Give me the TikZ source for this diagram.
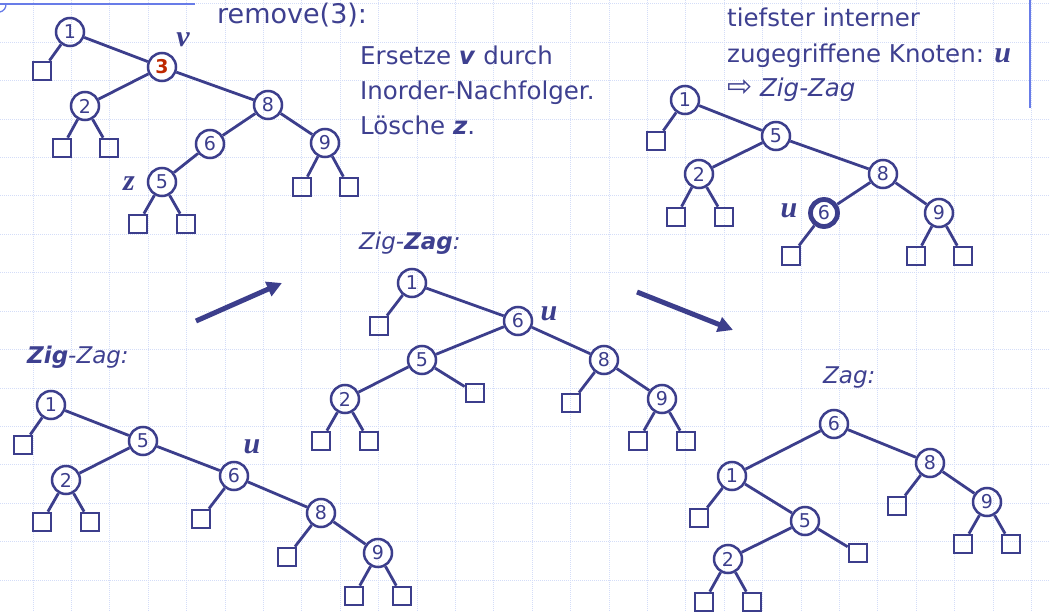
\documentclass[tikz,border=0pt]{standalone}
\usepackage{fontspec}
\setmainfont{DejaVu Sans}
\newfontfamily\labelfont{Liberation Serif}
\usetikzlibrary{arrows.meta}
\definecolor{treeblue}{RGB}{60,62,140}
\definecolor{textblue}{RGB}{62,64,144}
\definecolor{vred}{RGB}{190,40,0}
\definecolor{gridblue}{RGB}{212,221,248}
\definecolor{slideblue}{RGB}{104,124,232}

\begin{document}
\begin{tikzpicture}[
  x=1pt, y=-1pt,
  knoten/.style={draw=treeblue, circle, line width=2.5pt, minimum size=28pt,
                 inner sep=0pt, text=treeblue, font=\fontsize{19}{19}\selectfont},
  blatt/.style={draw=treeblue, rectangle, line width=2.7pt, minimum size=18pt,
                inner sep=0pt},
  kante/.style={draw=treeblue, line width=2.8pt},
  marke/.style={text=treeblue, inner sep=0pt,
                font=\labelfont\bfseries\itshape\fontsize{30}{30}\selectfont},
  txt/.style={text=textblue, anchor=base west, inner sep=0pt,
              font=\fontsize{24.5}{30}\selectfont},
  titel/.style={txt, font=\fontsize{23}{28}\selectfont\itshape},
  pfeil/.style={draw=treeblue, line width=5pt, -{Triangle[length=15pt, width=15pt]}},
  gitter/.style={draw=gridblue, line width=1pt, densely dotted}
]

%--- Background and grid ---
\fill[white] (0,0) rectangle (1049,612);
\useasboundingbox (0,0) rectangle (1049,612);
\foreach \k in {1,...,27}
  \draw[gitter] ({-5.4+38.4*\k},0) -- ({-5.4+38.4*\k},612);
\foreach \k in {0,...,15}
  \draw[gitter] (0,{4+38.4*\k}) -- (1049,{4+38.4*\k});
\draw[slideblue, line width=1.3pt] (0,4) -- (195,4);
\draw[slideblue, line width=1.3pt] (1030,0) -- (1030,108);
\draw[slideblue, line width=1.3pt] (0,12) .. controls (4,11) and (6,8) .. (6,4);

%--- Texts ---
\node[txt, font=\fontsize{27}{30}\selectfont] (remove) at (217,24) {remove(3):};
\node[txt] (zeile1) at (360,65) {Ersetze \textbf{\textit{v}} durch};
\node[txt] (zeile2) at (360,100) {Inorder-Nachfolger.};
\node[txt] (zeile3) at (360,135) {Lösche \textbf{\textit{z}}.};
\node[txt] (info1) at (727,27) {tiefster interner};
\node[txt] (info2) at (727,63) {zugegriffene Knoten: {\labelfont\bfseries\itshape\fontsize{30}{30}\selectfont u}};
\node[txt] (info3) at (727,97) {{\fontsize{30}{30}\selectfont ⇨} \textit{Zig-Zag}};
\node[titel] (zigtitel) at (27,363) {\textbf{Zig}-Zag:};
\node[titel] (zagtitel) at (359,250) {Zig-\textbf{Zag}:};
\node[titel] (zagende) at (823,383) {Zag:};

%--- Tree A: remove(3) ---
\node[knoten] (a1) at (70,32) {1};
\node[knoten, text=vred, font=\fontsize{19}{19}\selectfont\bfseries] (a3) at (162,67) {3};
\node[knoten] (a2) at (85,106) {2};
\node[knoten] (a8) at (268,105) {8};
\node[knoten] (a6) at (210,144) {6};
\node[knoten] (a9) at (325,143) {9};
\node[knoten] (a5) at (162,182) {5};
\node[blatt] (aL1) at (42,71) {};
\node[blatt] (aL2) at (62,148) {};
\node[blatt] (aL3) at (109,148) {};
\node[blatt] (aL4) at (302,187) {};
\node[blatt] (aL5) at (349,187) {};
\node[blatt] (aL6) at (138,224) {};
\node[blatt] (aL7) at (186,224) {};
\node[marke] (av) at (183,40) {v};
\node[marke] (az) at (129,184) {z};

\draw[kante] (a1) -- (aL1);
\draw[kante] (a1) -- (a3);
\draw[kante] (a3) -- (a2);
\draw[kante] (a3) -- (a8);
\draw[kante] (a2) -- (aL2);
\draw[kante] (a2) -- (aL3);
\draw[kante] (a8) -- (a6);
\draw[kante] (a8) -- (a9);
\draw[kante] (a6) -- (a5);
\draw[kante] (a9) -- (aL4);
\draw[kante] (a9) -- (aL5);
\draw[kante] (a5) -- (aL6);
\draw[kante] (a5) -- (aL7);

%--- Tree B: after removal ---
\node[knoten] (b1) at (685,100) {1};
\node[knoten] (b5) at (776,136) {5};
\node[knoten] (b2) at (699,174) {2};
\node[knoten] (b8) at (883,174) {8};
\node[knoten, line width=4.8pt, minimum size=27pt] (b6) at (824,213) {6};
\node[knoten] (b9) at (939,213) {9};
\node[blatt] (bL1) at (656,141) {};
\node[blatt] (bL2) at (676,217) {};
\node[blatt] (bL3) at (724,217) {};
\node[blatt] (bL4) at (791,256) {};
\node[blatt] (bL5) at (916,256) {};
\node[blatt] (bL6) at (963,256) {};
\node[marke] (bu) at (789,211) {u};

\draw[kante] (b1) -- (bL1);
\draw[kante] (b1) -- (b5);
\draw[kante] (b5) -- (b2);
\draw[kante] (b5) -- (b8);
\draw[kante] (b2) -- (bL2);
\draw[kante] (b2) -- (bL3);
\draw[kante] (b8) -- (b6);
\draw[kante] (b8) -- (b9);
\draw[kante] (b6) -- (bL4);
\draw[kante] (b9) -- (bL5);
\draw[kante] (b9) -- (bL6);

%--- Tree C: Zig ---
\node[knoten] (c1) at (51,405) {1};
\node[knoten] (c5) at (143,441) {5};
\node[knoten] (c2) at (66,480) {2};
\node[knoten] (c6) at (234,476) {6};
\node[knoten] (c8) at (321,513) {8};
\node[knoten] (c9) at (378,553) {9};
\node[blatt] (cL1) at (23,445) {};
\node[blatt] (cL2) at (42,522) {};
\node[blatt] (cL3) at (90,522) {};
\node[blatt] (cL4) at (201,519) {};
\node[blatt] (cL5) at (287,557) {};
\node[blatt] (cL6) at (354,596) {};
\node[blatt] (cL7) at (402,596) {};
\node[marke] (cu) at (252,447) {u};

\draw[kante] (c1) -- (cL1);
\draw[kante] (c1) -- (c5);
\draw[kante] (c5) -- (c2);
\draw[kante] (c5) -- (c6);
\draw[kante] (c2) -- (cL2);
\draw[kante] (c2) -- (cL3);
\draw[kante] (c6) -- (cL4);
\draw[kante] (c6) -- (c8);
\draw[kante] (c8) -- (cL5);
\draw[kante] (c8) -- (c9);
\draw[kante] (c9) -- (cL6);
\draw[kante] (c9) -- (cL7);

%--- Tree D: Zag ---
\node[knoten] (d1) at (412,283) {1};
\node[knoten] (d6) at (518,321) {6};
\node[knoten] (d5) at (422,360) {5};
\node[knoten] (d8) at (604,360) {8};
\node[knoten] (d2) at (345,399) {2};
\node[knoten] (d9) at (662,399) {9};
\node[blatt] (dL1) at (379,326) {};
\node[blatt] (dL2) at (475,393) {};
\node[blatt] (dL3) at (571,403) {};
\node[blatt] (dL4) at (321,441) {};
\node[blatt] (dL5) at (369,441) {};
\node[blatt] (dL6) at (638,441) {};
\node[blatt] (dL7) at (686,441) {};
\node[marke] (du) at (549,314) {u};

\draw[kante] (d1) -- (dL1);
\draw[kante] (d1) -- (d6);
\draw[kante] (d6) -- (d5);
\draw[kante] (d6) -- (d8);
\draw[kante] (d5) -- (d2);
\draw[kante] (d5) -- (dL2);
\draw[kante] (d8) -- (dL3);
\draw[kante] (d8) -- (d9);
\draw[kante] (d2) -- (dL4);
\draw[kante] (d2) -- (dL5);
\draw[kante] (d9) -- (dL6);
\draw[kante] (d9) -- (dL7);

%--- Tree E: result ---
\node[knoten] (e6) at (834,424) {6};
\node[knoten] (e1) at (732,476) {1};
\node[knoten] (e8) at (930,463) {8};
\node[knoten] (e5) at (805,521) {5};
\node[knoten] (e9) at (987,502) {9};
\node[knoten] (e2) at (728,559) {2};
\node[blatt] (eL1) at (699,518) {};
\node[blatt] (eL2) at (858,553) {};
\node[blatt] (eL3) at (897,506) {};
\node[blatt] (eL4) at (963,544) {};
\node[blatt] (eL5) at (1011,544) {};
\node[blatt] (eL6) at (704,602) {};
\node[blatt] (eL7) at (752,602) {};

\draw[kante] (e6) -- (e1);
\draw[kante] (e6) -- (e8);
\draw[kante] (e1) -- (eL1);
\draw[kante] (e1) -- (e5);
\draw[kante] (e5) -- (e2);
\draw[kante] (e5) -- (eL2);
\draw[kante] (e8) -- (eL3);
\draw[kante] (e8) -- (e9);
\draw[kante] (e9) -- (eL4);
\draw[kante] (e9) -- (eL5);
\draw[kante] (e2) -- (eL6);
\draw[kante] (e2) -- (eL7);

%--- Arrows ---
\coordinate (p1s) at (196,321);
\coordinate (p1e) at (282,283);
\coordinate (p2s) at (637,292);
\coordinate (p2e) at (733,330);
\draw[pfeil] (p1s) -- (p1e);
\draw[pfeil] (p2s) -- (p2e);

\end{tikzpicture}
\end{document}
